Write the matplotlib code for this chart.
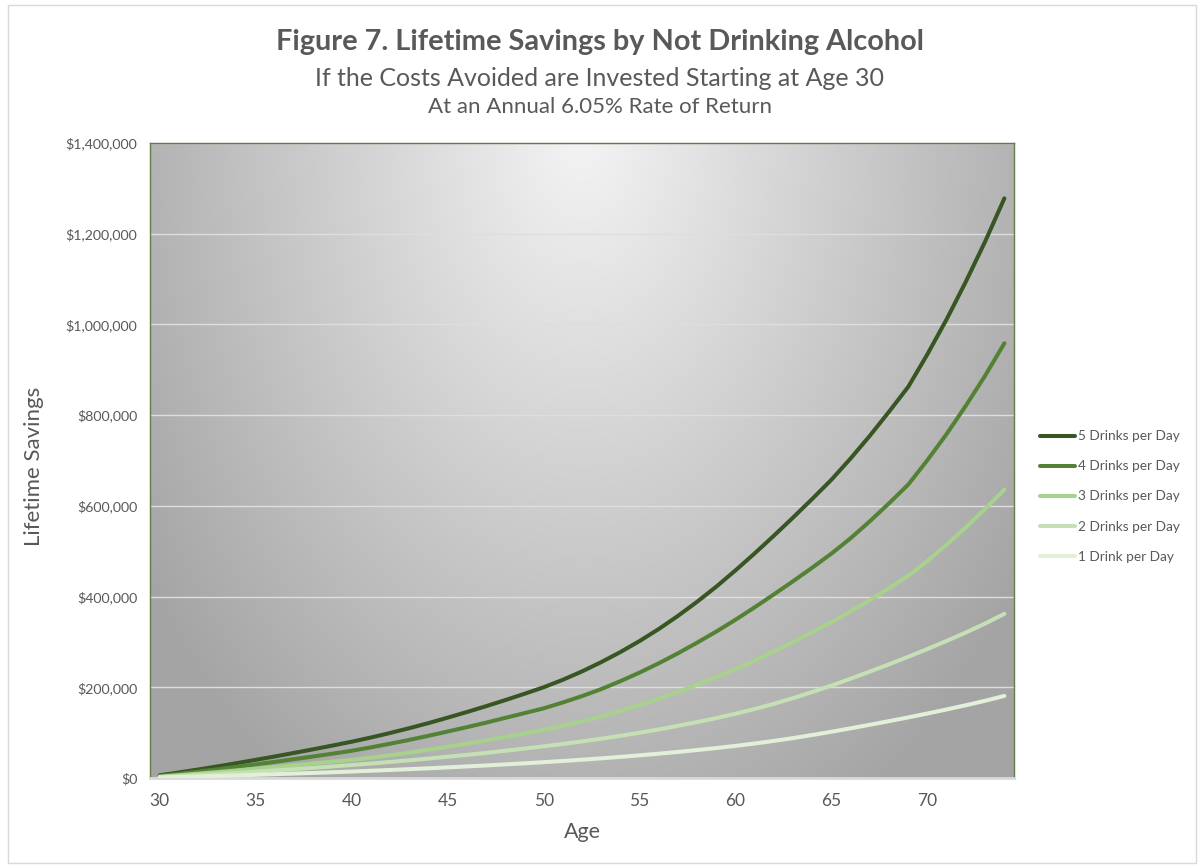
import numpy as np
import matplotlib
matplotlib.use("Agg")
import matplotlib.pyplot as plt
from matplotlib.ticker import FuncFormatter, MultipleLocator
from matplotlib.patches import Rectangle

plt.rcParams['font.family'] = ['Lato', 'DejaVu Sans']

# Ages (one category per year of investing)
ages = list(range(30, 75))

# Accumulated savings in dollars, by drinks avoided per day
five_drinks = [6000, 12200, 18700, 25500, 32600, 40000, 47500, 55300, 63300, 71500,
               80000, 89200, 99200, 109800, 121000, 133000, 145400, 158300, 171700, 185600,
               200000, 216500, 235000, 255400, 277700, 302000, 328500, 357500, 388700, 422100,
               458000, 495500, 534500, 574500, 615700, 658000, 705000, 755000, 808000, 863000,
               935000, 1012000, 1095000, 1183000, 1278000]
four_drinks = [4500, 9200, 14000, 19100, 24500, 30000, 35600, 41500, 47500, 53600,
               60000, 67500, 75500, 84000, 93000, 102500, 112000, 122000, 132500, 143000,
               153500, 166500, 180500, 196000, 213500, 232500, 253000, 275000, 298500, 323000,
               349000, 376500, 405000, 434000, 464000, 495000, 529000, 566300, 606000, 647300,
               701300, 759000, 821300, 887300, 958500]
three_drinks = [3000, 6200, 9600, 13100, 16700, 20500, 24300, 28200, 32100, 36000,
                40000, 44800, 50100, 55900, 62200, 69000, 75900, 83000, 90400, 98000,
                106000, 115000, 125000, 136000, 148000, 161000, 175000, 190000, 206000, 222500,
                240000, 259000, 279000, 300000, 321500, 344000, 367500, 392500, 418500, 446000,
                479000, 515000, 553000, 593500, 636000]
two_drinks = [2000, 4200, 6500, 8900, 11400, 14000, 16700, 19500, 22400, 25400,
              28600, 31900, 35400, 39000, 42800, 46800, 51000, 55400, 60000, 64800,
              69800, 75100, 80700, 86700, 93100, 99900, 107200, 115000, 123300, 132200,
              141700, 152200, 163700, 176200, 189700, 204000, 219200, 234800, 250800, 267400,
              284600, 302400, 321000, 340600, 362000]
one_drink = [1000, 2100, 3250, 4450, 5700, 7000, 8350, 9750, 11200, 12700,
             14300, 15950, 17700, 19500, 21400, 23400, 25500, 27700, 30000, 32400,
             34900, 37550, 40350, 43350, 46550, 49950, 53600, 57500, 61650, 66100,
             70850, 76100, 81850, 88100, 94850, 102000, 109600, 117400, 125400, 133700,
             142300, 151200, 160500, 170300, 181000]

series_labels = ["5 Drinks per Day", "4 Drinks per Day", "3 Drinks per Day",
                 "2 Drinks per Day", "1 Drink per Day"]
series_values = [five_drinks, four_drinks, three_drinks, two_drinks, one_drink]
series_colors = ["#375623", "#548235", "#a9d18e", "#c5e0b4", "#e2f0d9"]

W, H = 1199, 865
fig = plt.figure(figsize=(W / 100, H / 100), dpi=100)
fig.patch.set_facecolor("white")

# light frame around the whole chart
fig.add_artist(Rectangle((8 / W, 2 / H), (1196 - 8) / W, (860 - 2) / H,
                         transform=fig.transFigure, fill=False,
                         edgecolor="#d9d9d9", linewidth=1.0))

left, right, top, bottom = 150, 1014, 143, 778
pos = [left / W, 1 - bottom / H, (right - left) / W, (bottom - top) / H]

# radial grey backdrop for the plot area
bg = fig.add_axes(pos, zorder=0)
gx, gy = np.meshgrid(np.linspace(0, 1, 400), np.linspace(0, 1, 400))
t = np.sqrt(((gx - 0.5) / 0.62) ** 2 + ((gy - 1.02) / 1.25) ** 2)
shade = (244 - 80 * np.clip(t, 0, 1)) / 255.0
bg.imshow(np.dstack([shade, shade, shade]), origin="lower", extent=[0, 1, 0, 1],
          aspect="auto", interpolation="bilinear")
bg.set_axis_off()

ax = fig.add_axes(pos, zorder=1)
ax.set_facecolor("none")

for vals, lab, col in zip(series_values, series_labels, series_colors):
    ax.plot(ages, vals, color=col, lw=2.9, label=lab, solid_capstyle="round",
            solid_joinstyle="round", zorder=3)

ax.set_xlim(29.5, 74.5)
ax.set_ylim(0, 1400000)
ax.xaxis.set_major_locator(MultipleLocator(5))
ax.yaxis.set_major_locator(MultipleLocator(200000))
ax.yaxis.set_major_formatter(FuncFormatter(lambda v, p: "${:,.0f}".format(v)))
ax.grid(axis="y", color="#dedede", lw=1.0, zorder=1)
ax.set_axisbelow(True)

ax.tick_params(axis="y", length=0, pad=9, labelsize=10.2, labelcolor="#595959")
ax.tick_params(axis="x", length=0, pad=11, labelsize=12.5, labelcolor="#595959")

for s in ("left", "top", "right"):
    ax.spines[s].set_color("#5e7d4b")
    ax.spines[s].set_linewidth(1.0)
ax.spines["bottom"].set_color("#d9d9d9")
ax.spines["bottom"].set_linewidth(2.0)

ax.set_xlabel("Age", fontsize=15.5, color="#595959")
ax.xaxis.set_label_coords(0.5, -(833 - 778 - 11) / (bottom - top))
ax.set_ylabel("Lifetime Savings", fontsize=16, color="#595959")
ax.yaxis.set_label_coords(-(150 - 44) / (right - left), 0.49)

fig.text(0.5, 1 - 42 / H, "Figure 7. Lifetime Savings by Not Drinking Alcohol",
         ha="center", va="center", fontsize=20.8, fontweight="bold", color="#595959")
fig.text(0.5, 1 - 79 / H, "If the Costs Avoided are Invested Starting at Age 30",
         ha="center", va="center", fontsize=18, color="#595959")
fig.text(0.5, 1 - 107 / H, "At an Annual 6.05% Rate of Return",
         ha="center", va="center", fontsize=16, color="#595959")

fig.legend(loc="center left", bbox_to_anchor=(1040 / W, 1 - 496.5 / H),
           frameon=False, fontsize=9.8, handlelength=2.6, handletextpad=0.2,
           labelspacing=1.33, borderpad=0, borderaxespad=0, labelcolor="#595959")

fig.savefig("out.png", dpi=100)
